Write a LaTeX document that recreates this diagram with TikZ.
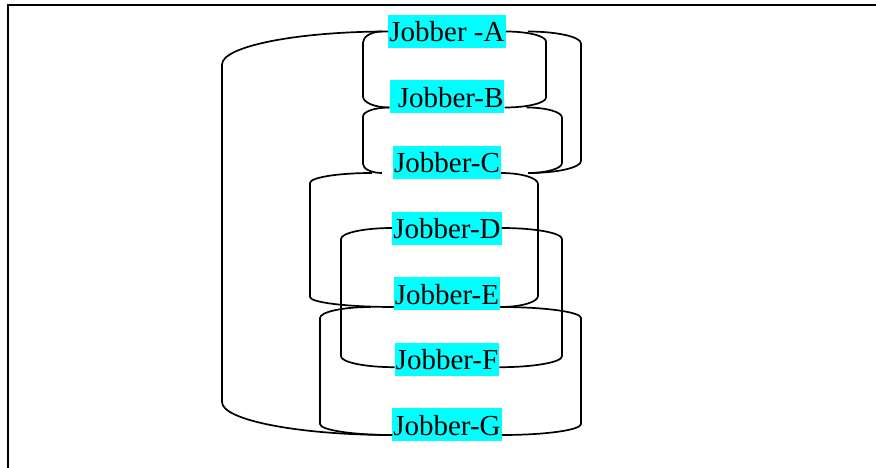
\documentclass[tikz,border=0pt]{standalone}
\usepackage{fontspec}
\setmainfont{Liberation Serif}
\usepackage{tikz}
\usetikzlibrary{positioning,calc}
\definecolor{jobbercyan}{RGB}{0,255,255}
\tikzstyle{jobber} = [fill=jobbercyan, rectangle, inner xsep=1pt, inner ysep=0pt, text height=27pt, text depth=6pt, font=\fontsize{29}{32}\selectfont]
\tikzstyle{link} = [draw, line width=1.7pt]
\tikzstyle{frame} = [draw, line width=2pt]
% side link: start, end, x of the vertical run, bend height
\newcommand{\sidelink}[4]{%
  \draw[link] let \p1=(#1), \p2=(#2) in (\p1)
    .. controls ({\x1+0.55*(#3pt-\x1)},\y1) and (#3pt,\y1-0.45*#4pt) .. (#3pt,\y1-#4pt)
    -- (#3pt,\y2+#4pt)
    .. controls (#3pt,\y2+0.45*#4pt) and ({\x2+0.55*(#3pt-\x2)},\y2) .. (\p2);}

\begin{document}
\begin{tikzpicture}[x=1pt, y=1pt, node distance=65.5pt]
    \useasboundingbox (0,0) rectangle (876,-468);
    \draw[frame] (876,-5) -- (8,-5) -- (8,-468);
    % Jobbers
    \node [jobber] (A) at (447,-31.5) {Jobber -A};
    \node [jobber, below of=A] (B) {\ Jobber-B};
    \node [jobber, below of=B] (C) {Jobber-C};
    \node [jobber, below of=C] (D) {Jobber-D};
    \node [jobber, below of=D] (E) {Jobber-E};
    \node [jobber, below of=E] (F) {Jobber-F};
    \node [jobber, below of=F] (G) {Jobber-G};

    % Connections, left side
    \sidelink{A.west}{G.base west}{222}{33}
    \sidelink{[xshift=-6pt]A.west}{B.base west}{363}{11}
    \sidelink{B.base west}{[xshift=-11pt]C.base west}{363}{9}
    \sidelink{[xshift=-21pt]C.base west}{[yshift=-3pt]E.base west}{310}{10}
    \sidelink{D.west}{F.mid west}{341}{11}
    \sidelink{[xshift=-23pt,yshift=-3pt]E.base west}{G.base west}{320}{11}
    % Connections, right side
    \sidelink{[xshift=22pt]A.east}{[xshift=27pt]C.base east}{581}{12}
    \sidelink{A.east}{B.base east}{546}{10}
    \sidelink{[xshift=22pt]B.base east}{[xshift=27pt]C.base east}{562}{10}
    \sidelink{C.base east}{[yshift=-3pt]E.base east}{538}{11}
    \sidelink{D.east}{F.mid east}{562}{11}
    \sidelink{[yshift=-3pt]E.base east}{G.base east}{581}{11}
\end{tikzpicture}
\end{document}
